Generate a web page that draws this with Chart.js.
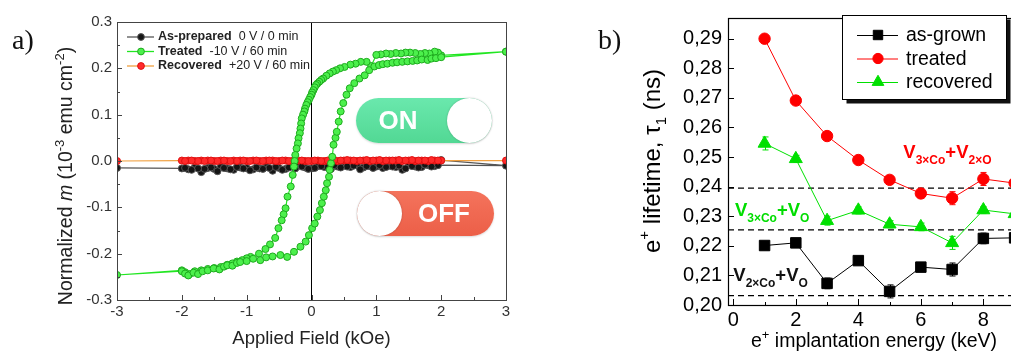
<!DOCTYPE html>
<html lang="en">
<head>
<meta charset="utf-8">
<title>Magnetic switching and positron lifetime</title>
<script src="https://cdn.jsdelivr.net/npm/chart.js@4.4.1/dist/chart.umd.min.js"></script>
<style>
  html, body { margin:0; padding:0; background:#fff; overflow:hidden; width:1011px; height:351px; }
  #chartA { position:absolute; left:0; top:0; }
  #chartB { position:absolute; left:600px; top:0; }
  .lbl { position:absolute; font-family:"Liberation Serif","Times New Roman",serif; font-size:28px; line-height:1; color:#111; }
  .tog { position:absolute; height:45px; border-radius:23px; font:bold 26px "Liberation Sans", Arial, sans-serif; color:#fff; }
  .tog span { position:absolute; top:0; width:84px; text-align:center; line-height:45px; }
  .tog i { position:absolute; top:0; width:45px; height:45px; border-radius:50%; background:#fff; box-shadow:0 0 2px rgba(0,0,0,0.25); }
  .on { left:356px; top:98px; width:136px; background:linear-gradient(#6ae8ad,#52d894); box-shadow:0 1px 2px rgba(0,0,0,0.15); }
  .on span { left:0; }
  .on i { right:0; }
  .off { left:357px; top:191px; width:137px; background:linear-gradient(#f4735c,#ec5f48); box-shadow:0 1px 2px rgba(0,0,0,0.15); }
  .off span { left:45px; }
  .off i { left:0; }
</style>

<script>
// ---- panel a: hysteresis loops (field in kOe, moment in 1e-3 emu cm^-2)
var fieldSweep = [-3, -2.0, -1.9, -1.8, -1.7, -1.6, -1.5, -1.4, -1.3, -1.2, -1.1, -1.0, -0.9, -0.8, -0.7, -0.6, -0.5, -0.4, -0.3, -0.2, -0.1,
                  0.0, 0.1, 0.2, 0.3, 0.4, 0.5, 0.6, 0.7, 0.8, 0.9, 1.0, 1.1, 1.2, 1.3, 1.4, 1.5, 1.6, 1.7, 1.8, 1.9, 2.0, 3];
var asPrepared = [-0.015, -0.016, -0.018, -0.014, -0.024, -0.015, -0.017, -0.013, -0.016, -0.019, -0.014, -0.015, -0.018, -0.016, -0.013, -0.021, -0.015, -0.017, -0.012, -0.004, -0.014,
                  -0.016, -0.011, -0.013, -0.017, -0.012, -0.010, -0.013, -0.009, -0.014, -0.011, -0.012, -0.015, -0.010, -0.013, -0.019, -0.004, -0.012, -0.013, -0.009, -0.011, 0.002, -0.010];
var recoveredA = [0.000, 0.001, 0.001, 0.000, 0.001, 0.001, 0.000, 0.001, 0.000, 0.001, 0.001, 0.000, 0.001, 0.000, 0.001, 0.001, 0.000, 0.001, 0.000, 0.001, 0.000,
                  0.000, 0.001, 0.000, 0.001, 0.000, 0.001, 0.001, 0.000, 0.001, 0.000, 0.001, 0.000, 0.001, 0.001, 0.000, 0.001, 0.000, 0.001, 0.000, 0.001, 0.001, 0.001];
// return sweep
var fieldBack = [1.95, 1.85, 1.75, 1.65, 1.55, 1.45, 1.35, 1.25, 1.15, 1.05, 0.95, 0.85, 0.75, 0.65, 0.55, 0.45, 0.35, 0.25, 0.15, 0.05,
                 -0.05, -0.15, -0.25, -0.35, -0.45, -0.55, -0.65, -0.75, -0.85, -0.95, -1.05, -1.15, -1.25, -1.35, -1.45, -1.55, -1.65, -1.75, -1.85, -1.95];
var asPreparedBack = [-0.009, -0.012, -0.008, -0.014, -0.011, -0.016, -0.010, -0.012, -0.013, -0.009, -0.015, -0.011, -0.018, -0.010, -0.012, -0.014, -0.009, -0.013, -0.011, -0.015,
                      -0.017, -0.012, -0.016, -0.014, -0.019, -0.013, -0.015, -0.017, -0.014, -0.020, -0.016, -0.013, -0.018, -0.015, -0.022, -0.014, -0.017, -0.016, -0.019, -0.015];
var recoveredBack = [0.001, 0.002, 0.001, 0.001, 0.002, 0.001, 0.002, 0.001, 0.001, 0.002, 0.001, 0.002, 0.001, 0.001, 0.002, 0.001, 0.002, 0.001, 0.000, 0.001,
                     0.000, 0.001, 0.001, 0.000, 0.001, 0.000, 0.001, 0.000, 0.001, 0.000, 0.001, 0.000, 0.000, 0.001, 0.000, 0.001, 0.000, 0.000, 0.001, 0.000];

// treated sample: descending branch then ascending branch
var treatedDownField = [3.0, 2.0, 1.95, 1.9, 1.82, 1.75, 1.68, 1.6, 1.52, 1.45, 1.38, 1.3, 1.22, 1.15, 1.07, 1.0, 0.92, 0.85, 0.76, 0.68,
  0.6, 0.51, 0.44, 0.38, 0.33, 0.28, 0.23, 0.18, 0.15, 0.12, 0.09, 0.07, 0.05, 0.03, 0.01, 0.0, -0.02, -0.04, -0.06, -0.08,
  -0.1, -0.11, -0.13, -0.15, -0.16, -0.17, -0.18, -0.2, -0.21, -0.23, -0.25, -0.26, -0.27, -0.29, -0.32, -0.37, -0.4, -0.43, -0.46, -0.51,
  -0.56, -0.64, -0.71, -0.81, -0.94, -1.0, -1.07, -1.15, -1.22, -1.3, -1.4, -1.5, -1.6, -1.7, -1.8, -1.88, -1.95, -2.0, -3.0];
var treatedDownMoment = [0.236, 0.228, 0.234, 0.236, 0.232, 0.233, 0.231, 0.233, 0.234, 0.234, 0.232, 0.233, 0.231, 0.232, 0.230, 0.229, 0.205, 0.214, 0.214, 0.210,
  0.208, 0.203, 0.200, 0.196, 0.193, 0.189, 0.184, 0.178, 0.175, 0.171, 0.167, 0.164, 0.159, 0.153, 0.148, 0.143, 0.138, 0.132, 0.127, 0.121,
  0.113, 0.107, 0.100, 0.092, 0.081, 0.070, 0.060, 0.049, 0.038, 0.027, 0.013, 0.000, -0.012, -0.030, -0.055, -0.077, -0.102, -0.115, -0.128, -0.145,
  -0.166, -0.180, -0.190, -0.200, -0.207, -0.210, -0.214, -0.217, -0.221, -0.224, -0.229, -0.231, -0.233, -0.236, -0.238, -0.244, -0.240, -0.236, -0.246];
var treatedUpField = [-2.0, -1.95, -1.9, -1.82, -1.75, -1.68, -1.6, -1.51, -1.42, -1.35, -1.3, -1.22, -1.15, -1.1, -1.0, -0.9, -0.79, -0.7, -0.6, -0.48,
  -0.375, -0.27, -0.17, -0.09, -0.04, 0.01, 0.05, 0.09, 0.13, 0.16, 0.19, 0.22, 0.24, 0.27, 0.28, 0.3, 0.32, 0.34, 0.37, 0.39,
  0.42, 0.45, 0.49, 0.54, 0.59, 0.66, 0.74, 0.82, 0.89, 0.97, 1.04, 1.1, 1.17, 1.25, 1.32, 1.4, 1.48, 1.56, 1.63, 1.7,
  1.79, 1.85, 1.92, 2.0, 3.0];
var treatedUpMoment = [-0.238, -0.243, -0.247, -0.241, -0.244, -0.238, -0.236, -0.232, -0.234, -0.228, -0.225, -0.226, -0.220, -0.218, -0.216, -0.211, -0.214, -0.208, -0.206, -0.203,
  -0.207, -0.196, -0.185, -0.174, -0.160, -0.145, -0.135, -0.120, -0.106, -0.091, -0.077, -0.063, -0.048, -0.034, -0.019, -0.005, 0.009, 0.035, 0.050, 0.063,
  0.085, 0.107, 0.125, 0.143, 0.157, 0.168, 0.178, 0.185, 0.196, 0.204, 0.207, 0.209, 0.210, 0.212, 0.213, 0.214, 0.215, 0.216, 0.217, 0.219,
  0.218, 0.221, 0.222, 0.224, 0.236];

var xTicksA = [-3, -2, -1, 0, 1, 2, 3];
var yTicksA = [-0.3, -0.2, -0.1, 0.0, 0.1, 0.2, 0.3];
var xMinorA = [-2.5, -1.5, -0.5, 0.5, 1.5, 2.5];
var yMinorA = [-0.25, -0.15, -0.05, 0.05, 0.15, 0.25];
var legendNamesA = ['As-prepared', 'Treated', 'Recovered'];
var legendCondA = ['0 V / 0 min', '-10 V / 60 min', '+20 V / 60 min'];

// ---- panel b: positron lifetime vs implantation energy
var energy = [1, 2, 3, 4, 5, 6, 7, 8, 9];
var asGrown = [0.2201, 0.2210, 0.2073, 0.2150, 0.2046, 0.2128, 0.2120, 0.2225, 0.2227];
var treatedB = [0.2900, 0.2691, 0.2571, 0.2490, 0.2423, 0.2377, 0.2361, 0.2426, 0.2412];
var recoveredB = [0.2546, 0.2494, 0.2285, 0.2320, 0.2273, 0.2264, 0.2210, 0.2321, 0.2308];
var errAsGrown = [0.0008, 0.0008, 0.0018, 0.0012, 0.0022, 0.0014, 0.0022, 0.0018, 0.0016];
var errTreated = [0.0010, 0.0010, 0.0010, 0.0010, 0.0012, 0.0015, 0.0022, 0.0022, 0.0020];
var errRecovered = [0.0022, 0.0012, 0.0015, 0.0012, 0.0012, 0.0013, 0.0022, 0.0012, 0.0013];
var refLevels = [0.2395, 0.2254, 0.2032];
var xTicksB = [0, 2, 4, 6, 8, 10];
var xMinorB = [1, 3, 5, 7, 9];
var yTicksB = [0.20, 0.21, 0.22, 0.23, 0.24, 0.25, 0.26, 0.27, 0.28, 0.29];
var yTickLabelsB = ['0,20', '0,21', '0,22', '0,23', '0,24', '0,25', '0,26', '0,27', '0,28', '0,29'];
var seriesNamesB = ['as-grown', 'treated', 'recovered'];

var SANS = '"Liberation Sans", Arial, sans-serif';

function pts(xs, ys) {
  return xs.map(function (x, i) { return { x: x, y: ys[i] }; });
}

function fnt(size, weight, style) {
  return (style || '') + ' ' + (weight || '') + ' ' + size + 'px ' + SANS;
}

// parts: [text, size, dy, weight, style]
function drawRich(ctx, parts, x, y, align) {
  var w = 0;
  parts.forEach(function (p) { ctx.font = fnt(p[1], p[3], p[4]); w += ctx.measureText(p[0]).width; });
  var cx = align === 'center' ? x - w / 2 : x;
  ctx.textAlign = 'left';
  ctx.textBaseline = 'alphabetic';
  parts.forEach(function (p) {
    ctx.font = fnt(p[1], p[3], p[4]);
    ctx.fillText(p[0], cx, y + p[2]);
    cx += ctx.measureText(p[0]).width;
  });
}

function marker(ctx, style, x, y, r, fill, stroke) {
  ctx.save();
  ctx.fillStyle = fill;
  ctx.strokeStyle = stroke;
  ctx.lineWidth = 1;
  ctx.beginPath();
  if (style === 'rect') {
    var s = r * Math.SQRT1_2;
    ctx.rect(x - s, y - s, 2 * s, 2 * s);
  } else if (style === 'triangle') {
    ctx.moveTo(x, y - r);
    ctx.lineTo(x + r * 0.866, y + r / 2);
    ctx.lineTo(x - r * 0.866, y + r / 2);
    ctx.closePath();
  } else {
    ctx.arc(x, y, r, 0, Math.PI * 2);
  }
  ctx.fill();
  ctx.stroke();
  ctx.restore();
}

function innerTicks(chart, xs, ys, len) {
  var ctx = chart.ctx, ca = chart.chartArea, sx = chart.scales.x, sy = chart.scales.y;
  ctx.beginPath();
  xs.forEach(function (v) {
    var px = Math.round(sx.getPixelForValue(v)) + 0.5;
    if (px > ca.left && px < ca.right) { ctx.moveTo(px, ca.bottom); ctx.lineTo(px, ca.bottom - len); }
  });
  ys.forEach(function (v) {
    var py = Math.round(sy.getPixelForValue(v)) + 0.5;
    if (py > ca.top && py < ca.bottom) { ctx.moveTo(ca.left, py); ctx.lineTo(ca.left + len, py); }
  });
  ctx.stroke();
}

var panelA = {
  id: 'panelA',
  afterDraw: function (chart) {
    var ctx = chart.ctx, ca = chart.chartArea;
    ctx.save();
    ctx.strokeStyle = '#444';
    ctx.lineWidth = 1;
    ctx.strokeRect(Math.round(ca.left) + 0.5, Math.round(ca.top) + 0.5, Math.round(ca.right - ca.left), Math.round(ca.bottom - ca.top));
    innerTicks(chart, xTicksA, yTicksA, 5);
    innerTicks(chart, xMinorA, yMinorA, 3);

    // legend
    var ds = chart.data.datasets;
    var order = [2, 0, 1];
    for (var i = 0; i < 3; i++) {
      var d = ds[order[i]];
      var y = ca.top + 15 + i * 14.5;
      var x0 = ca.left + 10;
      ctx.strokeStyle = d.borderColor;
      ctx.lineWidth = 1.3;
      ctx.beginPath(); ctx.moveTo(x0, y); ctx.lineTo(x0 + 27, y); ctx.stroke();
      marker(ctx, 'circle', x0 + 14, y, 3.4, d.pointBackgroundColor, d.pointBorderColor);
      ctx.fillStyle = '#222';
      ctx.textBaseline = 'middle';
      ctx.textAlign = 'left';
      ctx.font = fnt(12.5, 'bold');
      ctx.fillText(legendNamesA[i], x0 + 31, y);
      var w = ctx.measureText(legendNamesA[i]).width;
      ctx.font = fnt(12.5);
      ctx.fillText(legendCondA[i], x0 + 31 + w + 7, y);
    }

    // axis titles
    ctx.fillStyle = '#222';
    drawRich(ctx, [['Applied Field (kOe)', 18.5, 0]], (ca.left + ca.right) / 2, 344, 'center');
    ctx.translate(72, 176);
    ctx.rotate(-Math.PI / 2);
    drawRich(ctx, [['Normalized ', 19.5, 0], ['m', 19.5, 0, '', 'italic'], [' (10', 19.5, 0], ['-3', 13, -8],
                   [' emu cm', 19.5, 0], ['-2', 13, -8], [')', 19.5, 0]], 0, 0, 'center');
    ctx.restore();
  }
};

var annotB = [
  { x: 5.44, y: 0.2498, color: '#ff0000', parts: [['V', 18.5, 0, 'bold'], ['3\u00d7Co', 12, 6, 'bold'], ['+V', 18.5, 0, 'bold'], ['2\u00d7O', 12, 6, 'bold']] },
  { x: 0.05, y: 0.2301, color: '#00dd00', parts: [['V', 18.5, 0, 'bold'], ['3\u00d7Co', 12, 6, 'bold'], ['+V', 18.5, 0, 'bold'], ['O', 12, 6, 'bold']] },
  { x: 0.0, y: 0.2081, color: '#111', parts: [['V', 18.5, 0, 'bold'], ['2\u00d7Co', 12, 6, 'bold'], ['+V', 18.5, 0, 'bold'], ['O', 12, 6, 'bold']] }
];

var errorBars = {
  id: 'errorBars',
  beforeDatasetsDraw: function (chart) {
    var ctx = chart.ctx, sx = chart.scales.x, sy = chart.scales.y;
    var sets = [[asGrown, errAsGrown, '#000'], [treatedB, errTreated, '#ff0000'], [recoveredB, errRecovered, '#00e000']];
    ctx.save();
    ctx.lineWidth = 1;
    sets.forEach(function (s) {
      ctx.strokeStyle = s[2];
      energy.forEach(function (e, i) {
        var px = Math.round(sx.getPixelForValue(e)) + 0.5;
        var y1 = sy.getPixelForValue(s[0][i] - s[1][i]), y2 = sy.getPixelForValue(s[0][i] + s[1][i]);
        ctx.beginPath();
        ctx.moveTo(px, y1); ctx.lineTo(px, y2);
        ctx.moveTo(px - 3, y1); ctx.lineTo(px + 3, y1);
        ctx.moveTo(px - 3, y2); ctx.lineTo(px + 3, y2);
        ctx.stroke();
      });
    });
    ctx.restore();
  }
};

var panelB = {
  id: 'panelB',
  afterDraw: function (chart) {
    var ctx = chart.ctx, ca = chart.chartArea, sx = chart.scales.x, sy = chart.scales.y;
    ctx.save();
    ctx.strokeStyle = '#000';
    ctx.lineWidth = 1.2;
    ctx.strokeRect(Math.round(ca.left) + 0.5, Math.round(ca.top) + 0.5, Math.round(ca.right - ca.left), Math.round(ca.bottom - ca.top));
    ctx.lineWidth = 1;
    innerTicks(chart, xTicksB, yTicksB, 6);
    innerTicks(chart, xMinorB, [], 3);

    // annotations
    annotB.forEach(function (a) {
      ctx.fillStyle = a.color;
      drawRich(ctx, a.parts, sx.getPixelForValue(a.x), sy.getPixelForValue(a.y), 'left');
    });

    // legend box with shadow
    var bx = 242.5, by = 15.5, bw = 164, bh = 84;
    ctx.fillStyle = '#111';
    ctx.fillRect(bx + 4, by + 4, bw, bh);
    ctx.fillStyle = '#fff';
    ctx.fillRect(bx, by, bw, bh);
    ctx.strokeStyle = '#000';
    ctx.strokeRect(bx, by, bw, bh);
    var ds = chart.data.datasets;
    for (var i = 0; i < 3; i++) {
      var d = ds[i];
      var y = 35 + i * 23.5;
      ctx.strokeStyle = d.borderColor;
      ctx.lineWidth = 1;
      ctx.beginPath(); ctx.moveTo(257, y + 0.5); ctx.lineTo(298, y + 0.5); ctx.stroke();
      marker(ctx, d.pointStyle, 278, y, d.pointRadius * 0.9, d.pointBackgroundColor, d.pointBorderColor);
      ctx.fillStyle = '#000';
      ctx.font = fnt(19.5);
      ctx.textAlign = 'left';
      ctx.textBaseline = 'middle';
      ctx.fillText(seriesNamesB[i], 306, y + 1);
    }

    // axis titles
    ctx.fillStyle = '#000';
    drawRich(ctx, [['e', 19.5, 0], ['+', 13, -8], [' implantation energy (keV)', 19.5, 0]], 274, 347, 'center');
    ctx.translate(60, 161);
    ctx.rotate(-Math.PI / 2);
    drawRich(ctx, [['e', 24, 0], ['+', 15, -11], [' lifetime, \u03c4', 24, 0], ['1', 15, 6], [' (ns)', 24, 0]], 0, 0, 'center');
    ctx.restore();
  }
};

function go() {
  var lineA = { showLine: true, tension: 0, borderWidth: 1.2, pointRadius: 3.5, pointBorderWidth: 1 };

  new Chart(document.getElementById('chartA'), {
    type: 'scatter',
    data: {
      datasets: [
        Object.assign({ label: 'Treated', data: pts(treatedDownField.concat(treatedUpField), treatedDownMoment.concat(treatedUpMoment)),
          borderColor: '#22e622', pointBackgroundColor: '#4cf04c', pointBorderColor: '#1eaa1e' }, lineA),
        Object.assign({ label: 'Recovered', data: pts(fieldSweep.concat(fieldBack), recoveredA.concat(recoveredBack)),
          borderColor: '#f0a040', pointBackgroundColor: '#ff2a2a', pointBorderColor: '#e01010' }, lineA),
        Object.assign({ label: 'As-prepared', data: pts(fieldSweep.concat(fieldBack), asPrepared.concat(asPreparedBack)),
          borderColor: '#555', pointBackgroundColor: '#151515', pointBorderColor: '#555' }, lineA),
        { label: 'zero', data: [{ x: 0, y: -0.3 }, { x: 0, y: 0.3 }], showLine: true, borderColor: '#000', borderWidth: 1, pointRadius: 0 }
      ]
    },
    options: {
      responsive: false, animation: false, events: [],
      layout: { padding: { left: 0, right: 14, top: 22, bottom: 0 } },
      plugins: { legend: { display: false }, tooltip: { enabled: false } },
      scales: {
        x: {
          type: 'linear', min: -3, max: 3,
          afterFit: function (s) { s.height = 51; },
          afterBuildTicks: function (s) { s.ticks = xTicksA.map(function (v) { return { value: v }; }); },
          grid: { display: false, drawTicks: false }, border: { display: false },
          ticks: { padding: 3, color: '#333', font: { family: SANS, size: 15 }, callback: function (v) { return String(v); } }
        },
        y: {
          type: 'linear', min: -0.3, max: 0.3,
          afterFit: function (s) { s.width = 117; },
          afterBuildTicks: function (s) { s.ticks = yTicksA.map(function (v) { return { value: v }; }); },
          grid: { display: false, drawTicks: false }, border: { display: false },
          ticks: { padding: 5, color: '#333', font: { family: SANS, size: 15 }, callback: function (v) { return v.toFixed(1); } }
        }
      }
    },
    plugins: [panelA]
  });

  var dashSets = refLevels.map(function (v) {
    return { label: 'ref', data: [{ x: -0.17, y: v }, { x: 10, y: v }], showLine: true, borderColor: '#000',
             borderWidth: 1.3, borderDash: [6, 4], pointRadius: 0 };
  });

  new Chart(document.getElementById('chartB'), {
    type: 'scatter',
    data: {
      datasets: [
        { label: 'as-grown', data: pts(energy, asGrown), showLine: true, borderColor: '#000', borderWidth: 1,
          pointStyle: 'rect', pointRadius: 7.4, pointBackgroundColor: '#000', pointBorderColor: '#000' },
        { label: 'treated', data: pts(energy, treatedB), showLine: true, borderColor: '#ff0000', borderWidth: 1,
          pointStyle: 'circle', pointRadius: 5.7, pointBackgroundColor: '#ff0000', pointBorderColor: '#ff0000' },
        { label: 'recovered', data: pts(energy, recoveredB), showLine: true, borderColor: '#00e000', borderWidth: 1,
          pointStyle: 'triangle', pointRadius: 7.5, pointBackgroundColor: '#00e000', pointBorderColor: '#00e000' }
      ].concat(dashSets)
    },
    options: {
      responsive: false, animation: false, events: [],
      layout: { padding: { left: 0, right: 11, top: 5, bottom: 0 } },
      plugins: { legend: { display: false }, tooltip: { enabled: false } },
      scales: {
        x: {
          type: 'linear', min: -0.17, max: 10,
          afterFit: function (s) { s.height = 46; },
          afterBuildTicks: function (s) { s.ticks = xTicksB.map(function (v) { return { value: v }; }); },
          grid: { display: false, drawTicks: false }, border: { display: false },
          ticks: { padding: 3, color: '#000', font: { family: SANS, size: 20 }, callback: function (v) { return String(v); } }
        },
        y: {
          type: 'linear', min: 0.2, max: 0.297,
          afterFit: function (s) { s.width = 128; },
          afterBuildTicks: function (s) { s.ticks = yTicksB.map(function (v) { return { value: v }; }); },
          grid: { display: false, drawTicks: false }, border: { display: false },
          ticks: { padding: 6, color: '#000', font: { family: SANS, size: 20 }, callback: function (v, i) { return yTickLabelsB[i]; } }
        }
      }
    },
    plugins: [errorBars, panelB]
  });
}
</script>
</head>

<body onload="go();">
<canvas id="chartA" width="520" height="351"></canvas>
<canvas id="chartB" width="460" height="351"></canvas>

<div class="lbl" style="left:12px; top:26px;">a)</div>
<div class="lbl" style="left:598px; top:26px;">b)</div>

<div class="tog on"><span>ON</span><i></i></div>
<div class="tog off"><i></i><span>OFF</span></div>
</body>
</html>
